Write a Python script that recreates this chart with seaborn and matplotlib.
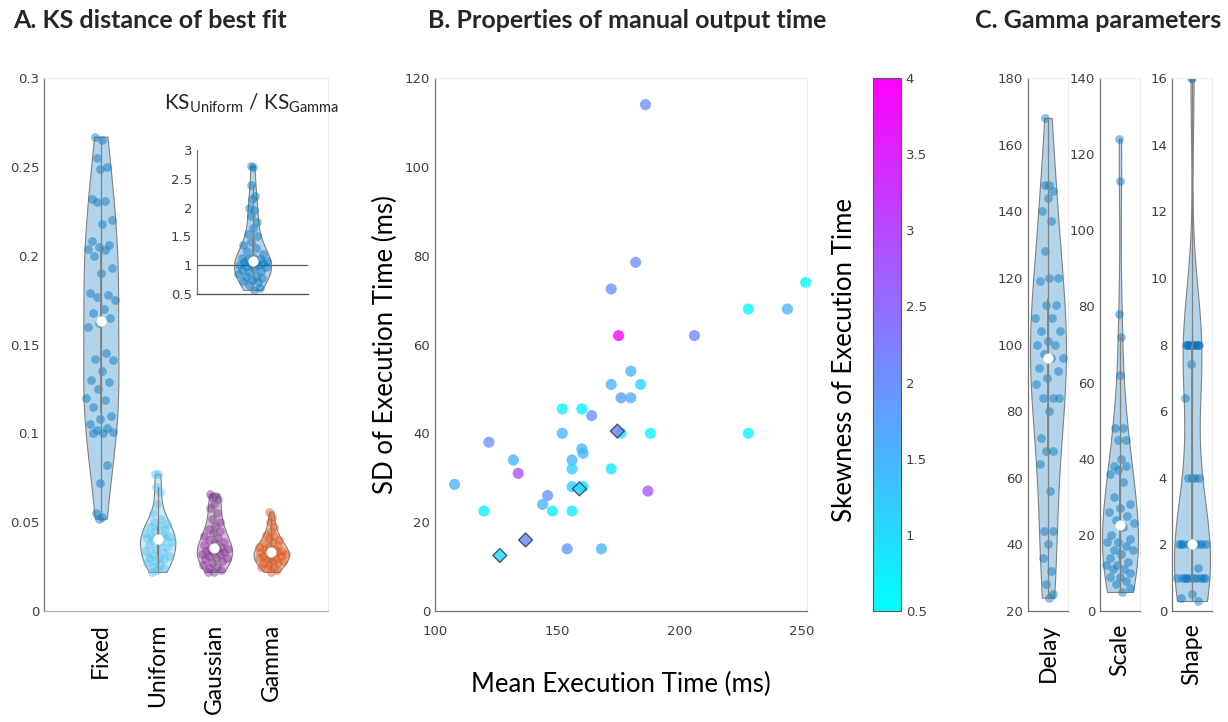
import numpy as np
import pandas as pd
import matplotlib
matplotlib.use("Agg")
import matplotlib.pyplot as plt
import matplotlib as mpl
from matplotlib.ticker import FuncFormatter
import seaborn as sns

# ---------------- data ----------------
models = ["Fixed", "Uniform", "Gaussian", "Gamma"]
ks_fixed = [0.267, 0.265, 0.255, 0.250, 0.249, 0.232, 0.231, 0.230, 0.220, 0.218,
            0.208, 0.206, 0.205, 0.204, 0.203, 0.200, 0.193, 0.190, 0.179, 0.178,
            0.177, 0.175, 0.170, 0.168, 0.165, 0.162, 0.160, 0.145, 0.142, 0.141,
            0.135, 0.130, 0.129, 0.125, 0.120, 0.119, 0.115, 0.110, 0.108, 0.105,
            0.103, 0.102, 0.101, 0.100, 0.100, 0.082, 0.072, 0.055, 0.053, 0.052]
ks_uniform = [0.077, 0.077, 0.070, 0.067, 0.060, 0.055, 0.052, 0.050, 0.049, 0.048,
              0.047, 0.046, 0.045, 0.044, 0.043, 0.042, 0.042, 0.041, 0.041, 0.041,
              0.040, 0.039, 0.038, 0.037, 0.036, 0.035, 0.034, 0.033, 0.032, 0.031,
              0.030, 0.030, 0.029, 0.028, 0.027, 0.026, 0.025, 0.024, 0.023, 0.022]
ks_gaussian = [0.066, 0.065, 0.064, 0.063, 0.060, 0.058, 0.055, 0.052, 0.050, 0.048,
               0.046, 0.045, 0.044, 0.042, 0.041, 0.040, 0.039, 0.038, 0.037, 0.036,
               0.035, 0.035, 0.035, 0.034, 0.033, 0.033, 0.032, 0.032, 0.031, 0.030,
               0.030, 0.029, 0.028, 0.027, 0.026, 0.025, 0.024, 0.023, 0.022, 0.022]
ks_gamma = [0.056, 0.053, 0.050, 0.047, 0.045, 0.043, 0.042, 0.041, 0.040, 0.039,
            0.038, 0.037, 0.036, 0.036, 0.035, 0.035, 0.034, 0.034, 0.033, 0.033,
            0.033, 0.032, 0.032, 0.031, 0.031, 0.030, 0.030, 0.029, 0.029, 0.028,
            0.028, 0.027, 0.027, 0.026, 0.025, 0.025, 0.024, 0.023, 0.022]
ks_ratio = [2.72, 2.70, 2.40, 2.20, 2.15, 2.00, 1.95, 1.85, 1.75, 1.65, 1.55, 1.50,
            1.40, 1.35, 1.30, 1.25, 1.20, 1.15, 1.12, 1.10, 1.10, 1.08, 1.06, 1.05,
            1.03, 1.02, 1.00, 1.00, 0.98, 0.97, 0.95, 0.92, 0.90, 0.88, 0.85, 0.82,
            0.80, 0.78, 0.75, 0.72, 0.70, 0.65, 0.60, 0.57]

mean_et = [186, 182, 172, 251.5, 228, 244, 175, 206, 180, 172, 184, 176, 180, 152,
           160, 164, 152, 176, 188, 228, 122, 160, 160.5, 132, 156, 156, 172, 134,
           108, 156, 160.5, 187, 146, 144, 120, 148, 156, 154, 168,
           174.5, 159, 137, 126.5]
sd_et = [114, 78.5, 72.5, 74, 68, 68, 62, 62, 54, 51, 51, 48, 48, 45.5,
         45.5, 44, 40, 40, 40, 40, 38, 36.5, 35.5, 34, 34, 32, 32, 31,
         28.5, 28, 28, 27, 26, 24, 22.5, 22.5, 22.5, 14, 14,
         40.5, 27.5, 16, 12.5]
skew_et = [2.0, 2.0, 2.0, 0.6, 0.6, 1.5, 3.9, 2.1, 1.5, 1.5, 1.1, 1.8, 1.6, 0.7,
           0.7, 2.0, 1.5, 0.7, 0.6, 0.6, 2.0, 1.5, 1.5, 1.5, 1.5, 1.2, 0.8, 2.8,
           1.5, 1.2, 0.9, 2.8, 2.0, 1.5, 0.7, 0.7, 0.8, 1.9, 1.5,
           2.1, 1.0, 2.0, 1.0]
marker_kind = ["circle"] * 39 + ["diamond"] * 4

gamma_delay = [168, 148, 148, 146, 144, 140, 137, 128, 120, 120, 119, 112, 112, 108,
               108, 104, 104, 101, 100, 100, 97, 96, 96, 93, 92, 90, 88, 84, 84, 84,
               80, 72, 68, 68, 64, 56, 44, 44, 40, 36, 32, 28, 25, 24]
gamma_scale = [124, 113, 78, 72, 62, 48, 48, 45, 45, 40, 38, 38, 37, 36, 34, 30, 28,
               27, 26, 25, 24, 23, 22, 20, 19, 18, 18, 17, 16, 16, 15, 14, 13, 12,
               12, 11, 11, 10, 9, 9, 8, 7, 6, 5]
gamma_shape = [16, 16, 8, 8, 8, 8, 8, 8, 8, 8, 8, 8, 7.4, 6.4, 4, 4, 4, 4, 2, 2, 2,
               2, 2, 2, 2, 2, 2, 1.3, 1, 1, 1, 1, 1, 1, 1, 1, 1, 1, 0.5, 0.4, 0.3]

# ---------------- style ----------------
sns.set_theme(style="white")
plt.rcParams["font.family"] = ["DejaVu Sans"]
plt.rcParams["mathtext.fontset"] = "custom"
plt.rcParams["mathtext.rm"] = "Lato"
plt.rcParams["mathtext.it"] = "Lato:italic"
plt.rcParams["mathtext.bf"] = "Lato:bold"

TXT = "Lato"
AX_GREY = "0.25"
TICK_FS = 9.5
LABEL_FS = 18.5
C_BLUE = (0.0, 0.447, 0.741)
C_LBLUE = (0.301, 0.745, 0.933)
C_PURPLE = (0.494, 0.184, 0.556)
C_ORANGE = (0.85, 0.325, 0.098)

W, H = 1228, 722
fig = plt.figure(figsize=(W / 100, H / 100), dpi=100)


def rect(x0, x1, y_top=78, y_bot=611):
    return [x0 / W, 1 - y_bot / H, (x1 - x0) / W, (y_bot - y_top) / H]


gfmt = FuncFormatter(lambda v, p: f"{v:g}")


def spread(vals, half):
    v = np.asarray(vals, float)
    n = len(v)
    bw = v.std(ddof=1) * n ** -0.2
    d = np.exp(-0.5 * ((v[:, None] - v[None, :]) / bw) ** 2).sum(1)
    d = d / d.max()
    k = ((np.arange(n) * 0.6180339887) % 1.0) * 2 - 1
    return k * d * half * 0.85


def style_axes(ax):
    for s in ["left", "bottom"]:
        ax.spines[s].set_color("0.45")
        ax.spines[s].set_linewidth(0.9)
    for s in ["top", "right"]:
        ax.spines[s].set_color("0.93")
        ax.spines[s].set_linewidth(0.8)
    ax.tick_params(axis="both", direction="in", length=3, width=0.7,
                   colors="0.45", labelcolor=AX_GREY, labelsize=TICK_FS)
    ax.yaxis.set_major_formatter(gfmt)


def fade_violins(ax, alpha=0.3):
    for c in ax.collections:
        fc = c.get_facecolor()
        if len(fc):
            fc[:, 3] = alpha
            c.set_facecolor(fc)


inner_kws = dict(box_width=1.3, whis_width=0.9, marker="o", markersize=7)
PT_S = 40

# ---------------- Panel A ----------------
axA = fig.add_axes(rect(44, 328))
ks_all = [ks_fixed, ks_uniform, ks_gaussian, ks_gamma]
dfA = pd.DataFrame({
    "model": np.repeat(models, [len(a) for a in ks_all]),
    "ks": np.concatenate(ks_all),
})
palA = dict(zip(models, [C_BLUE, C_LBLUE, C_PURPLE, C_ORANGE]))
sns.violinplot(data=dfA, x="model", y="ks", hue="model", order=models,
               hue_order=models, palette=palA, legend=False, cut=0, width=0.62,
               density_norm="width", saturation=1, linewidth=0.8, bw_adjust=1.15,
               linecolor="0.5", inner="box", inner_kws=inner_kws, ax=axA)
fade_violins(axA)
for i, (m, vals) in enumerate(zip(models, ks_all)):
    sns.scatterplot(x=i + spread(vals, 0.31), y=vals, ax=axA, color=palA[m],
                    alpha=0.45, s=PT_S, linewidth=0, legend=False, zorder=1)
axA.set_xlim(-1, 4)
axA.set_ylim(0, 0.3)
axA.set_yticks(np.arange(0, 0.301, 0.05))
style_axes(axA)
axA.spines["bottom"].set_color("0.7")
axA.set_xlabel("")
axA.set_ylabel("")
axA.tick_params(axis="x", pad=9, labelsize=16.5, labelcolor="black")
for t in axA.get_xticklabels():
    t.set_rotation(90)
    t.set_family(TXT)
    t.set_va("top")

# inset
axI = fig.add_axes(rect(197, 308, 150, 294))
sns.violinplot(y=ks_ratio, ax=axI, color=C_BLUE, cut=0, width=1.0,
               saturation=1, linewidth=0.8, linecolor="0.5", inner="box",
               inner_kws=inner_kws)
fade_violins(axI)
sns.scatterplot(x=spread(ks_ratio, 0.5), y=ks_ratio, ax=axI, color=C_BLUE,
                alpha=0.45, s=PT_S, linewidth=0, legend=False, zorder=1)
axI.axhline(1.0, color="0.35", lw=0.9, zorder=0)
axI.set_xlim(-1.5, 1.5)
axI.set_ylim(0.5, 3)
axI.set_yticks(np.arange(0.5, 3.01, 0.5))
style_axes(axI)
axI.spines["bottom"].set_color("0.3")
axI.spines["top"].set_visible(False)
axI.spines["right"].set_visible(False)
axI.set_xticks([])
axI.patch.set_alpha(0)
fig.text(251 / W, 1 - 103 / H,
         r"KS$_{\mathrm{Uniform}}$ / KS$_{\mathrm{Gamma}}$",
         family=TXT, fontsize=15, ha="center", va="center")

# ---------------- Panel B ----------------
axB = fig.add_axes(rect(435, 807))
dfB = pd.DataFrame({"mean": mean_et, "sd": sd_et, "skew": skew_et,
                    "kind": marker_kind})
norm = mpl.colors.Normalize(0.5, 4)
circ = dfB[dfB["kind"] == "circle"]
diam = dfB[dfB["kind"] == "diamond"]
sns.scatterplot(data=circ, x="mean", y="sd", hue="skew", palette="cool",
                hue_norm=norm, s=64, linewidth=0, alpha=0.8, legend=False,
                ax=axB, clip_on=False)
sns.scatterplot(data=diam, x="mean", y="sd", hue="skew", palette="cool",
                hue_norm=norm, s=50, marker="D", edgecolor=(0.2, 0.25, 0.35),
                linewidth=1.0, alpha=0.85, legend=False, ax=axB, zorder=3)
axB.set_xlim(100, 252)
axB.set_ylim(0, 120)
axB.set_xticks([100, 150, 200, 250])
axB.set_yticks(np.arange(0, 121, 20))
style_axes(axB)
axB.tick_params(axis="x", pad=10)
axB.set_xlabel("Mean Execution Time (ms)", family=TXT, fontsize=LABEL_FS,
               color="black")
axB.set_ylabel("SD of Execution Time (ms)", family=TXT, fontsize=LABEL_FS,
               color="black")
axB.xaxis.set_label_coords(0.5, -0.115)
axB.yaxis.set_label_coords(-0.10, 0.5)

cax = fig.add_axes(rect(873, 901))
cb = fig.colorbar(mpl.cm.ScalarMappable(norm=norm, cmap="cool"), cax=cax)
cb.set_ticks(np.arange(0.5, 4.01, 0.5))
cb.ax.yaxis.set_major_formatter(gfmt)
cb.outline.set_edgecolor("0.35")
cb.outline.set_linewidth(0.8)
cax.tick_params(direction="in", length=3, width=0.7, colors="0.45",
                labelcolor=AX_GREY, labelsize=TICK_FS)
cax.yaxis.set_label_position("left")
cax.set_ylabel("Skewness of Execution Time", family=TXT, fontsize=LABEL_FS,
               color="black")
cax.yaxis.set_label_coords(-0.58, 0.47)

# ---------------- Panel C ----------------
c_sets = [("Delay", gamma_delay, (20, 180), 20, 1.25),
          ("Scale", gamma_scale, (0, 140), 20, 1.1),
          ("Shape", gamma_shape, (0, 16), 2, 0.95)]
c_left = [1028, 1100, 1172]
for (name, vals, lim, step, bwa), x0 in zip(c_sets, c_left):
    ax = fig.add_axes(rect(x0, x0 + 40))
    sns.violinplot(y=vals, ax=ax, color=C_BLUE, cut=0, width=0.9,
                   saturation=1, linewidth=0.8, linecolor="0.5", inner="box",
                   inner_kws=inner_kws, bw_adjust=bwa)
    fade_violins(ax)
    sns.scatterplot(x=spread(vals, 0.45), y=vals, ax=ax, color=C_BLUE,
                    alpha=0.45, s=PT_S, linewidth=0, legend=False, zorder=1)
    ax.set_xlim(-0.5, 0.5)
    ax.set_ylim(*lim)
    ax.set_yticks(np.arange(lim[0], lim[1] + 0.001, step))
    style_axes(ax)
    ax.set_xticks([0])
    ax.set_xticklabels([name], rotation=90, family=TXT, fontsize=16.5,
                       color="black", va="top")
    ax.tick_params(axis="x", pad=9, length=0)

# ---------------- titles ----------------
tkw = dict(family=TXT, fontsize=18, fontweight="bold", va="center", ha="left")
fig.text(13 / W, 1 - 20 / H, "A. KS distance of best fit", **tkw)
fig.text(428 / W, 1 - 20 / H, "B. Properties of manual output time", **tkw)
fig.text(975 / W, 1 - 20 / H, "C. Gamma parameters", **tkw)

fig.savefig("out.png", dpi=100)
